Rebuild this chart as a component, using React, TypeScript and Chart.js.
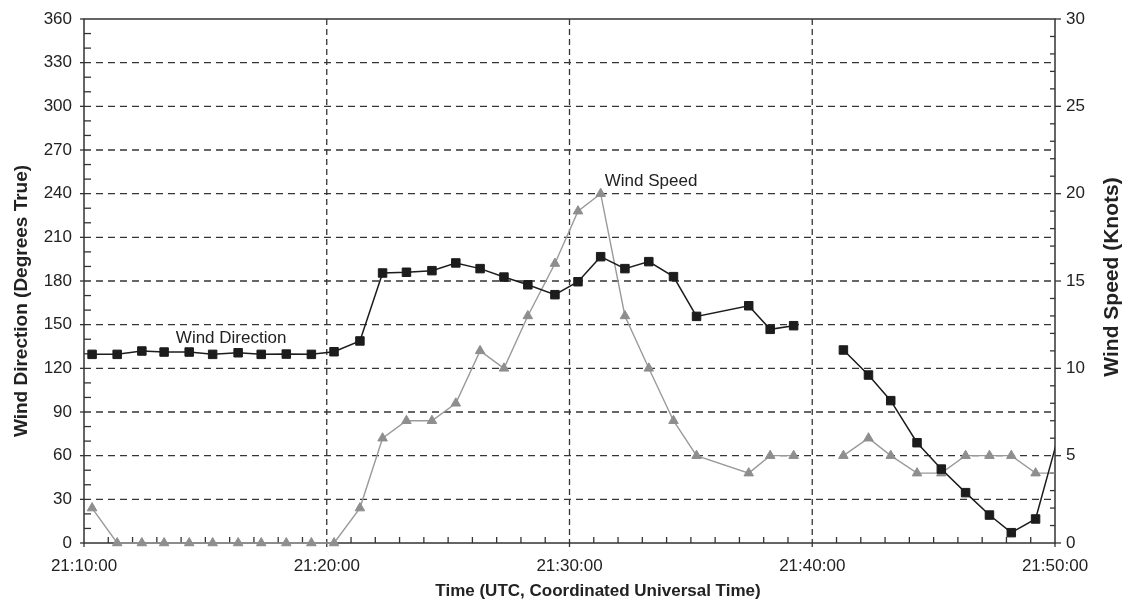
import React, { useEffect, useRef } from 'react';
import { Chart, registerables } from 'chart.js';

Chart.register(...registerables);

// Sample times (UTC); null values mark the missing sample at 21:40
const times = [
  '21:10:20', '21:11:22', '21:12:23', '21:13:18', '21:14:20', '21:15:18', '21:16:21', '21:17:18',
  '21:18:20', '21:19:22', '21:20:18', '21:21:22', '21:22:18', '21:23:17', '21:24:20', '21:25:19',
  '21:26:19', '21:27:18', '21:28:17', '21:29:24', '21:30:21', '21:31:17', '21:32:17', '21:33:16',
  '21:34:17', '21:35:14', '21:37:23', '21:38:16', '21:39:14', '21:40:18', '21:41:17', '21:42:19',
  '21:43:14', '21:44:19', '21:45:19', '21:46:19', '21:47:18', '21:48:12', '21:49:12', '21:50:12',
];

// Wind direction, degrees true
const windDirection = [
  129.6, 129.6, 131.9, 131.2, 131.2, 129.6, 130.7, 129.6,
  129.8, 129.6, 131.4, 138.8, 185.5, 186, 187.1, 192.4,
  188.5, 182.7, 177.4, 170.6, 179.5, 196.7, 188.5, 193.3,
  183, 155.7, 163, 146.8, 149.3, null, 132.6, 115.4,
  97.8, 68.9, 50.8, 34.6, 19.2, 7.1, 16.5, 77,
];

// Wind speed, knots
const windSpeed = [
  2, 0, 0, 0, 0, 0, 0, 0,
  0, 0, 0, 2, 6, 7, 7, 8,
  11, 10, 13, 16, 19, 20, 13, 10,
  7, 5, 4, 5, 5, null, 5, 6,
  5, 4, 4, 5, 5, 5, 4, 4,
];

const xTickLabels = ['21:10:00', '21:20:00', '21:30:00', '21:40:00', '21:50:00'];

const FONT = "'Liberation Sans', Arial, Helvetica, sans-serif";
const TEXT = '#222222';

function toMinutes(t: string): number {
  const [h, m, s] = t.split(':').map(Number);
  return h * 60 + m - (21 * 60 + 10) + s / 60;
}

const decorPlugin = {
  id: 'decor',
  beforeDatasetsDraw(chart: any) {
    const { ctx, chartArea: a, scales } = chart;
    const x = scales.x;
    const y = scales.y;
    const y1 = scales.y1;
    const line = (x1: number, yA: number, x2: number, yB: number) => {
      ctx.beginPath();
      ctx.moveTo(x1, yA);
      ctx.lineTo(x2, yB);
      ctx.stroke();
    };
    ctx.save();
    ctx.strokeStyle = '#353535';
    ctx.lineWidth = 1.3;
    ctx.setLineDash([7, 5]);
    for (let v = 30; v < 360; v += 30) {
      const py = y.getPixelForValue(v);
      line(a.left, py, a.right, py);
    }
    ctx.setLineDash([6, 4]);
    for (let v = 10; v < 40; v += 10) {
      const px = x.getPixelForValue(v);
      line(px, a.top, px, a.bottom);
    }
    ctx.setLineDash([]);
    ctx.strokeStyle = '#333333';
    ctx.lineWidth = 1.3;
    for (let v = 0; v <= 360; v += 10) {
      const py = y.getPixelForValue(v);
      if (v % 30 === 0) line(a.left - 4, py, a.left, py);
      else line(a.left, py, a.left + 7, py);
    }
    for (let v = 0; v <= 30; v += 1) {
      const py = y1.getPixelForValue(v);
      if (v % 5 === 0) line(a.right, py, a.right + 6, py);
      else line(a.right - 5, py, a.right, py);
    }
    for (let v = 0; v <= 40; v += 1) {
      const px = x.getPixelForValue(v);
      if (v % 10 === 0) line(px, a.bottom, px, a.bottom + 4);
      else line(px, a.bottom - 6, px, a.bottom);
    }
    ctx.lineWidth = 1.5;
    ctx.strokeRect(a.left, a.top, a.right - a.left, a.bottom - a.top);
    ctx.restore();
  },
  afterDraw(chart: any) {
    const { ctx, scales } = chart;
    ctx.save();
    ctx.fillStyle = TEXT;
    ctx.textAlign = 'center';
    ctx.textBaseline = 'middle';
    // series annotations, anchored to the scales
    ctx.font = `17px ${FONT}`;
    ctx.fillText('Wind Direction', scales.x.getPixelForValue(6.06), scales.y.getPixelForValue(140.8));
    ctx.fillText('Wind Speed', scales.x.getPixelForValue(23.36), scales.y1.getPixelForValue(20.72));
    // axis titles
    ctx.font = `bold 17px ${FONT}`;
    ctx.fillText('Time (UTC, Coordinated Universal Time)', 598, 591);
    ctx.save();
    ctx.translate(22, 301);
    ctx.rotate(-Math.PI / 2);
    ctx.font = `bold 19px ${FONT}`;
    ctx.fillText('Wind Direction (Degrees True)', 0, 0);
    ctx.restore();
    ctx.save();
    ctx.translate(1112, 277);
    ctx.rotate(-Math.PI / 2);
    ctx.font = `bold 21px ${FONT}`;
    ctx.fillText('Wind Speed (Knots)', 0, 0);
    ctx.restore();
    ctx.restore();
  },
};

export default function App() {
  const ref = useRef<HTMLCanvasElement>(null);

  useEffect(() => {
    document.body.style.margin = '0';
    const canvas = ref.current;
    if (!canvas) return;
    const xs = times.map(toMinutes);
    const dirData = xs.map((x, i) => ({ x, y: windDirection[i] }));
    const spdData = xs.map((x, i) => ({ x, y: windSpeed[i] }));
    const tickFont = { family: FONT, size: 17 };

    const chart = new Chart(canvas, {
      type: 'line',
      data: {
        datasets: [
          {
            label: 'Wind Direction',
            data: dirData as any,
            yAxisID: 'y',
            borderColor: '#1c1c1c',
            backgroundColor: '#1c1c1c',
            borderWidth: 1.5,
            pointStyle: 'rect',
            pointRadius: 6,
            pointBorderWidth: 1,
            pointBackgroundColor: '#1c1c1c',
            pointBorderColor: '#1c1c1c',
            tension: 0,
            spanGaps: false,
            clip: { left: 10, top: 10, right: 0, bottom: 10 } as any,
          },
          {
            label: 'Wind Speed',
            data: spdData as any,
            yAxisID: 'y1',
            borderColor: '#9a9a9a',
            backgroundColor: '#8e8e8e',
            borderWidth: 1.4,
            pointStyle: 'triangle',
            pointRadius: 5.5,
            pointBorderWidth: 1,
            pointBackgroundColor: '#8e8e8e',
            pointBorderColor: '#8e8e8e',
            tension: 0,
            spanGaps: false,
            clip: { left: 10, top: 10, right: 0, bottom: 10 } as any,
          },
        ],
      },
      options: {
        responsive: false,
        animation: false,
        events: [],
        layout: { padding: { top: 19, left: 0, right: 0, bottom: 0 } },
        plugins: { legend: { display: false }, tooltip: { enabled: false } },
        scales: {
          x: {
            type: 'linear',
            position: 'bottom',
            min: 0,
            max: 40,
            ticks: {
              stepSize: 10,
              autoSkip: false,
              maxRotation: 0,
              padding: 13,
              color: TEXT,
              font: tickFont,
              callback: (_v: any, i: number) => xTickLabels[i],
            },
            grid: { display: false, drawTicks: false },
            border: { display: false },
            afterFit: (s: any) => { s.height = 64; s.paddingLeft = 0; s.paddingRight = 0; },
          },
          y: {
            type: 'linear',
            position: 'left',
            min: 0,
            max: 360,
            ticks: { stepSize: 30, padding: 12, color: TEXT, font: tickFont },
            grid: { display: false, drawTicks: false },
            border: { display: false },
            afterFit: (s: any) => { s.width = 84; s.paddingTop = 0; s.paddingBottom = 0; },
          },
          y1: {
            type: 'linear',
            position: 'right',
            min: 0,
            max: 30,
            ticks: { stepSize: 5, padding: 11, color: TEXT, font: tickFont },
            grid: { display: false, drawTicks: false },
            border: { display: false },
            afterFit: (s: any) => { s.width = 68; s.paddingTop = 0; s.paddingBottom = 0; },
          },
        },
      } as any,
      plugins: [decorPlugin],
    });
    return () => chart.destroy();
  }, []);

  return (
    <div style={{ width: 1123, height: 607 }}>
      <canvas ref={ref} width={1123} height={607} style={{ display: 'block' }} />
    </div>
  );
}
